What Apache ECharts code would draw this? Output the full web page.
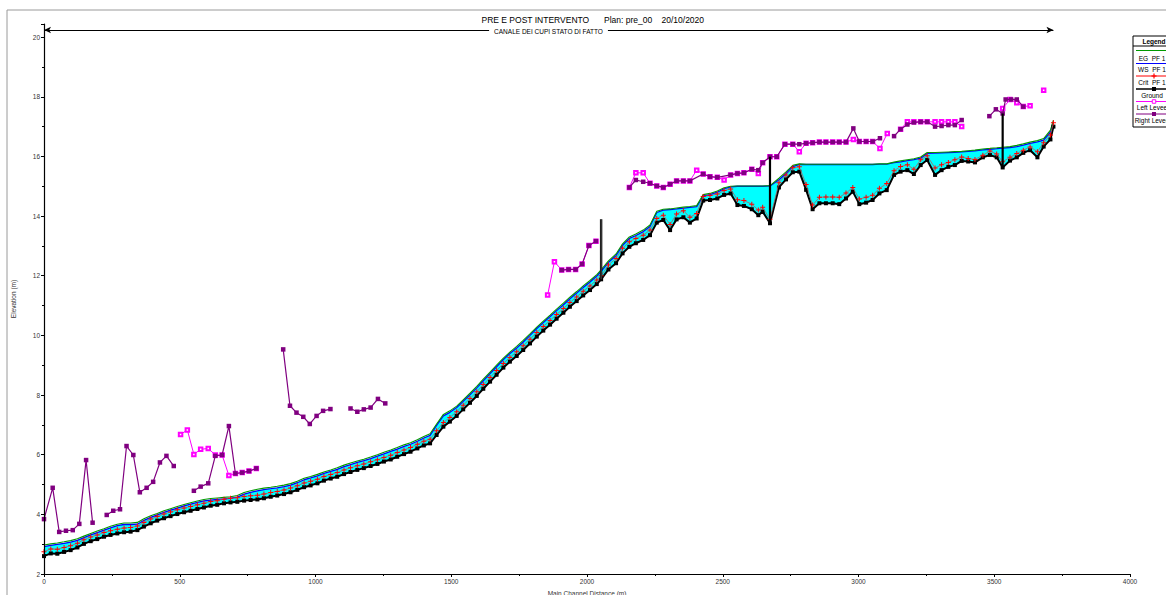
<!DOCTYPE html>
<html><head><meta charset="utf-8">
<script src="https://cdn.jsdelivr.net/npm/echarts/dist/echarts.min.js"></script>
<style>html,body{margin:0;padding:0;background:#fff}#c{width:1166px;height:595px}</style>
</head><body><div id="c"></div>
<script>
// ---- data ----
const stations = [0,25,49,74,98,123,147,172,196,221,245,270,295,319,344,368,393,417,442,466,491,516,540,565,589,614,638,663,687,712,737,761,786,810,835,859,884,908,933,958,982,1007,1031,1056,1080,1105,1129,1154,1178,1203,1228,1252,1277,1301,1326,1350,1375,1399,1422,
1446,1471,1495,1520,1544,1569,1594,1618,1643,1667,1692,1716,1741,1765,1790,1815,1839,1864,1888,1913,1937,1962,1986,2011,2036,2052,
2079,2107,2131,2156,2180,2207,2232,2257,2281,2306,2330,2355,2379,2404,2428,2453,2480,2505,2529,2554,2578,2607,2631,2647,2674,
2707,2733,2758,2782,2807,2831,2856,2880,2905,2929,2954,2979,3003,3028,3052,3077,3104,3131,3155,3180,3204,3229,3253,3282,3306,3331,3355,3380,3404,3429,3458,3484,3509,3531,3558,3583,3607,3632,3659,3682,3707,3718];

const groundElev = [2.60,2.69,2.68,2.74,2.80,2.89,3.01,3.10,3.17,3.25,3.31,3.36,3.40,3.42,3.47,3.59,3.70,3.79,3.87,3.94,4.01,4.07,4.12,4.18,4.23,4.29,4.32,4.37,4.40,4.42,4.46,4.48,4.50,4.54,4.59,4.63,4.68,4.74,4.82,4.91,4.97,5.04,5.13,5.20,5.26,5.35,5.42,5.49,5.55,5.62,5.69,5.77,5.84,5.93,6.02,6.10,6.21,6.31,6.38,
6.66,6.94,7.11,7.30,7.52,7.74,7.97,8.21,8.45,8.68,8.92,9.12,9.31,9.51,9.73,9.96,10.16,10.36,10.56,10.76,10.96,11.15,11.34,11.52,11.72,11.88,
12.21,12.42,12.75,12.97,13.09,13.20,13.36,13.78,13.87,13.53,13.89,13.96,13.78,13.92,14.52,14.54,14.59,14.71,14.76,14.37,14.34,14.23,14.03,14.15,13.76,
14.96,15.23,15.47,15.49,14.88,14.23,14.43,14.43,14.43,14.40,14.59,14.82,14.40,14.45,14.54,14.76,14.87,15.38,15.49,15.54,15.41,15.71,15.88,15.38,15.54,15.65,15.71,15.85,15.83,15.80,15.97,16.05,15.97,15.63,15.86,15.97,16.12,16.21,15.97,16.33,16.57,17.00];

const critElev = [2.75,2.84,2.83,2.89,2.95,3.03,3.15,3.24,3.31,3.39,3.45,3.50,3.54,3.56,3.61,3.73,3.84,3.93,4.01,4.08,4.15,4.21,4.26,4.32,4.37,4.43,4.46,4.51,4.54,4.56,4.60,4.62,4.64,4.68,4.73,4.77,4.82,4.88,4.96,5.05,5.11,5.18,5.27,5.34,5.40,5.49,5.56,5.63,5.69,5.76,5.83,5.91,5.98,6.07,6.16,6.24,6.35,6.45,6.52,
6.80,7.08,7.25,7.44,7.66,7.88,8.11,8.35,8.59,8.82,9.06,9.26,9.45,9.65,9.87,10.10,10.30,10.50,10.70,10.90,11.10,11.29,11.48,11.66,11.86,12.00,
12.36,12.58,12.92,13.14,13.25,13.36,13.53,13.92,14.03,13.72,14.07,14.18,13.96,14.09,14.66,14.69,14.74,14.86,14.91,14.55,14.52,14.40,14.20,14.30,13.89,
15.12,15.38,15.62,15.65,15.06,14.37,14.63,14.64,14.64,14.63,14.77,14.96,14.57,14.63,14.70,14.93,15.09,15.52,15.66,15.72,15.57,15.89,16.02,15.61,15.72,15.80,15.89,15.98,15.93,15.90,16.04,16.18,16.08,15.82,15.97,16.10,16.21,16.32,16.16,16.46,16.72,17.13];

const wsElev = [2.92,2.96,2.99,3.03,3.07,3.13,3.22,3.31,3.39,3.47,3.55,3.62,3.66,3.66,3.67,3.80,3.90,3.98,4.07,4.14,4.21,4.28,4.34,4.40,4.45,4.48,4.50,4.52,4.54,4.58,4.68,4.74,4.79,4.83,4.86,4.89,4.93,4.98,5.06,5.16,5.22,5.29,5.37,5.44,5.51,5.60,5.67,5.74,5.80,5.87,5.95,6.03,6.11,6.19,6.28,6.35,6.45,6.56,6.65,
6.98,7.30,7.42,7.58,7.79,8.01,8.24,8.48,8.72,8.95,9.19,9.39,9.58,9.78,10.00,10.23,10.43,10.63,10.83,11.03,11.23,11.42,11.61,11.79,11.99,12.15,
12.45,12.68,13.02,13.25,13.35,13.48,13.65,14.12,14.20,14.22,14.24,14.27,14.29,14.32,14.68,14.72,14.80,14.92,14.98,15.00,15.00,15.00,15.00,15.00,15.01,
15.22,15.43,15.66,15.73,15.73,15.73,15.73,15.73,15.73,15.73,15.73,15.73,15.73,15.73,15.73,15.74,15.74,15.79,15.82,15.86,15.89,15.94,16.10,16.11,16.12,16.13,16.14,16.15,16.17,16.19,16.22,16.24,16.26,16.28,16.30,16.33,16.38,16.44,16.49,16.55,16.82,17.16];

const egElev = [2.97,3.01,3.04,3.08,3.12,3.18,3.27,3.36,3.44,3.52,3.60,3.67,3.71,3.71,3.73,3.85,3.95,4.03,4.12,4.19,4.26,4.33,4.39,4.45,4.50,4.53,4.55,4.57,4.59,4.63,4.73,4.79,4.84,4.88,4.91,4.94,4.98,5.03,5.11,5.21,5.27,5.34,5.42,5.49,5.56,5.65,5.72,5.79,5.85,5.92,6.00,6.08,6.16,6.24,6.33,6.40,6.50,6.61,6.70,
7.03,7.35,7.47,7.63,7.84,8.06,8.29,8.53,8.77,9.00,9.24,9.44,9.63,9.83,10.05,10.28,10.48,10.68,10.88,11.08,11.28,11.47,11.66,11.84,12.04,12.20,
12.50,12.73,13.07,13.30,13.40,13.53,13.70,14.16,14.23,14.24,14.27,14.30,14.32,14.35,14.72,14.76,14.84,14.95,15.00,15.01,15.01,15.01,15.01,15.01,15.02,
15.27,15.48,15.70,15.75,15.74,15.74,15.74,15.74,15.74,15.74,15.74,15.74,15.74,15.74,15.74,15.75,15.75,15.81,15.85,15.89,15.92,15.98,16.13,16.13,16.14,16.15,16.16,16.17,16.19,16.21,16.25,16.27,16.29,16.31,16.33,16.37,16.42,16.48,16.53,16.60,16.88,17.22];

const leftLeveeSegments = [
  [[503,6.68],[528,6.83],[552,6.01],[577,6.18],[605,6.21],[631,5.99],[656,5.99],[681,5.30],[705,5.37],[730,5.40],[755,5.45],[782,5.54]],
  [[1855,11.35],[1880,12.47],[1907,12.19],[1932,12.21],[1958,12.21],[1982,12.39],[2007,13.01],[2033,13.16]],
  [[2156,14.96],[2180,15.45],[2207,15.45],[2232,15.10],[2257,15.01],[2281,14.96],[2306,15.07],[2330,15.18],[2355,15.18],[2379,15.18],[2404,15.54],[2428,15.41],[2453,15.32],[2480,15.30],[2505,15.21],[2529,15.38],[2554,15.43],[2578,15.45],[2607,15.57],[2631,15.43],[2647,15.79],[2674,15.99],[2699,15.99],[2729,16.41],[2758,16.41],[2782,16.16],[2807,16.44],[2831,16.46],[2856,16.48],[2880,16.48],[2905,16.48],[2929,16.48],[2954,16.48],[2981,16.57],[3003,16.50],[3028,16.50],[3052,16.50],[3079,16.27],[3106,16.77]],
  [[3155,16.91],[3180,17.16],[3204,17.16],[3229,17.16],[3253,17.16],[3282,17.16],[3306,17.16],[3331,17.16],[3355,17.16],[3380,17.00]],
  [[3531,17.61],[3558,17.91],[3583,17.80],[3607,17.67],[3632,17.70]],
  [[3682,18.22]]
];

const rightLeveeSegments = [
  [[0,3.84],[32,4.89],[56,3.41],[81,3.45],[106,3.47],[130,3.68],[155,5.82],[179,3.72]],
  [[231,3.98],[255,4.12],[280,4.17],[304,6.29],[329,5.99],[353,4.74],[378,4.89],[402,5.09],[427,5.74],[451,5.96],[478,5.62]],
  [[552,4.79],[577,4.93],[605,5.04],[631,5.96],[656,5.99],[681,6.96],[705,5.37],[730,5.40],[755,5.45],[782,5.54]],
  [[881,9.53],[906,7.64],[930,7.41],[955,7.27],[979,7.03],[1004,7.30],[1028,7.47],[1055,7.53]],
  [[1129,7.55],[1154,7.44],[1178,7.52],[1203,7.58],[1230,7.87],[1257,7.72]],
  [[1907,12.19],[1932,12.21],[1958,12.21],[1982,12.39],[2007,13.01],[2033,13.16]],
  [[2156,14.96],[2180,15.21],[2207,15.15],[2232,15.10],[2257,15.01],[2281,14.96],[2306,15.07],[2330,15.18],[2355,15.18],[2379,15.18],[2428,15.41],[2453,15.32],[2480,15.30],[2529,15.38],[2554,15.43],[2578,15.45],[2607,15.57],[2631,15.54],[2647,15.79],[2674,15.99],[2699,15.99],[2729,16.41],[2758,16.41],[2782,16.41],[2807,16.44],[2831,16.46],[2856,16.48],[2880,16.48],[2905,16.48],[2929,16.48],[2954,16.48],[2981,16.94],[3003,16.50],[3028,16.50],[3052,16.50],[3079,16.61]],
  [[3131,16.68],[3155,16.91],[3180,17.07],[3204,17.14],[3229,17.16],[3253,17.16],[3282,17.00],[3306,17.02],[3331,17.05],[3355,17.05],[3380,17.22]],
  [[3482,17.35],[3506,17.58],[3531,17.44],[3542,17.91],[3562,17.91],[3583,17.91],[3607,17.67]]
];

// vertical structure outlines (station, bottom elev, top elev)
const structures = [[2052,11.88,13.89],[2674,13.76,15.99],[3531,15.63,17.44]];

const reachName = 'CANALE DEI CUPI STATO DI FATTO';
const titleParts = ['PRE E POST INTERVENTO','Plan: pre_00','20/10/2020'];
const legendLabels = ['EG  PF 1','WS  PF 1','Crit  PF 1','Ground','Left Levee','Right Levee'];

// ---- chart ----
const FONT = '"Liberation Sans", Arial, sans-serif';
const zip = (vals) => stations.map((d, i) => [d, vals[i]]);
const PLUS = 'path://M4,0L6,0L6,4L10,4L10,6L6,6L6,10L4,10L4,6L0,6L0,4L4,4Z';
const COL = {eg:'#009a00', ws:'#0000ff', crit:'#ff0000', ground:'#000000', left:'#ff00ff', right:'#800080', fill:'#00ffff'};

const series = [];
// cyan water body: one polygon between the water surface and the ground, placed with the axis scales
series.push({type:'custom', z:1, silent:true, clip:true,
  data:[[stations[0], wsElev[0]]],
  renderItem:(params, api) => {
    const pts = [];
    for (let i = 0; i < stations.length; i++) pts.push(api.coord([stations[i], wsElev[i]]));
    for (let i = stations.length - 1; i >= 0; i--) pts.push(api.coord([stations[i], groundElev[i]]));
    return {type:'polygon', shape:{points:pts}, style:{fill:COL.fill, stroke:null}};
  }});
series.push({name:'WS PF 1', type:'line', data: zip(wsElev), showSymbol:false, z:2,
  lineStyle:{color:COL.ws, width:1.3}});
series.push({name:'EG PF 1', type:'line', data: zip(egElev), showSymbol:false, z:2,
  lineStyle:{color:COL.eg, width:1.1}});
series.push({name:'Ground', type:'line', data: zip(groundElev), z:3, symbol:'rect', symbolSize:4,
  itemStyle:{color:COL.ground}, lineStyle:{color:COL.ground, width:2}});
series.push({name:'Crit PF 1', type:'line', data: zip(critElev), z:4, symbol:PLUS, symbolSize:5,
  itemStyle:{color:COL.crit}, lineStyle:{color:'#b06060', width:0.8}});
leftLeveeSegments.forEach((seg) => series.push({name:'Left Levee', type:'line', data: seg, z:5,
  symbol:'emptyRect', symbolSize:3.5, showAllSymbol:true,
  itemStyle:{color:COL.left, borderColor:COL.left, borderWidth:1}, lineStyle:{color:COL.left, width:1}}));
rightLeveeSegments.forEach((seg) => series.push({name:'Right Levee', type:'line', data: seg, z:6,
  symbol:'rect', symbolSize:4.5, showAllSymbol:true,
  itemStyle:{color:COL.right}, lineStyle:{color:COL.right, width:1.2}}));
structures.forEach((s, k) => {
  series.push({type:'line', data:[[s[0], s[1]],[s[0], s[2]]], showSymbol:false, z:7,
    lineStyle:{color:'#000', width: k === 0 ? 2.4 : 2.2}});
  if (k === 0) series.push({type:'line', data:[[s[0], s[1]],[s[0], s[2]]], showSymbol:false, z:8,
    lineStyle:{color:'#8a8a8a', width:0.6}});
});
// reach extent line
series.push({type:'line', data:[], z:9,
  markLine:{silent:true, animation:false, symbol:['arrow','arrow'], symbolSize:[5,7],
    lineStyle:{color:'#000', width:1, type:'solid'}, label:{show:false},
    data:[[{coord:[stations[0], 20.24]},{coord:[stations[stations.length-1], 20.24]}]]}});

// frame, title, reach name and legend graphics
const LX = 1133, LW = 62, LC = 1154;
const g = [];
g.push({type:'rect', shape:{x:7,y:10,width:1200,height:700}, style:{fill:'none', stroke:'#9a9a9a', lineWidth:1}, z:0, silent:true});
g.push({type:'text', x:481.5, y:19.5, style:{text:titleParts[0], font:'8.5px '+FONT, fill:'#000', textVerticalAlign:'middle'}});
g.push({type:'text', x:604, y:19.5, style:{text:titleParts[1], font:'8.5px '+FONT, fill:'#000', textVerticalAlign:'middle'}});
g.push({type:'text', x:661.5, y:19.5, style:{text:titleParts[2], font:'8.5px '+FONT, fill:'#000', textVerticalAlign:'middle'}});
g.push({type:'text', x:548.5, y:31, z:20, style:{text:reachName, font:'6.5px '+FONT, fill:'#000', textAlign:'center', textVerticalAlign:'middle', backgroundColor:'#fff', padding:[1,5]}});
g.push({type:'rect', shape:{x:LX, y:36, width:LW, height:91}, style:{fill:'#fff', stroke:'#000', lineWidth:1}, z:10});
g.push({type:'text', x:LC, y:41.5, style:{text:'Legend', font:'bold 6.5px '+FONT, fill:'#000', textAlign:'center', textVerticalAlign:'middle'}, z:11});
g.push({type:'line', shape:{x1:LX, y1:46, x2:LX+LW, y2:46}, style:{stroke:'#000', lineWidth:1}, z:11});
const rows = [
  {ly:50.5, ty:58, c:COL.eg, m:null},
  {ly:63.5, ty:69.5, c:COL.ws, m:null},
  {ly:76, ty:82, c:COL.crit, m:'plus'},
  {ly:89, ty:95, c:COL.ground, m:'rect'},
  {ly:101.5, ty:107.5, c:COL.left, m:'empty'},
  {ly:114, ty:120.5, c:COL.right, m:'rect'}
];
rows.forEach((r, i) => {
  g.push({type:'line', shape:{x1:LX+3, y1:r.ly, x2:LX+LW, y2:r.ly}, style:{stroke:r.c, lineWidth: i===3 ? 1.6 : 1}, z:11});
  if (r.m === 'rect') g.push({type:'rect', shape:{x:LC-2, y:r.ly-2, width:4, height:4}, style:{fill:r.c}, z:12});
  if (r.m === 'empty') g.push({type:'rect', shape:{x:LC-1.75, y:r.ly-1.75, width:3.5, height:3.5}, style:{fill:'#fff', stroke:r.c, lineWidth:1}, z:12});
  if (r.m === 'plus') {
    g.push({type:'line', shape:{x1:LC-2.5, y1:r.ly, x2:LC+2.5, y2:r.ly}, style:{stroke:r.c, lineWidth:1.2}, z:12});
    g.push({type:'line', shape:{x1:LC, y1:r.ly-2.5, x2:LC, y2:r.ly+2.5}, style:{stroke:r.c, lineWidth:1.2}, z:12});
  }
  g.push({type:'text', x:LC-2, y:r.ty, style:{text:legendLabels[i], font:'6.5px '+FONT, fill:'#000', textAlign:'center', textVerticalAlign:'middle'}, z:12});
});

const chart = echarts.init(document.getElementById('c'), null, {renderer:'svg'});
chart.setOption({
  animation:false,
  backgroundColor:'#fff',
  grid:{left:44, right:36, top:24, bottom:21, containLabel:false, outerBoundsMode:'none'},
  xAxis:{type:'value', min:0, max:4000, interval:500, z:10,
    name:'Main Channel Distance (m)', nameLocation:'middle', nameGap:14,
    nameTextStyle:{fontFamily:FONT, fontSize:6.5, color:'#333'},
    axisLine:{show:true, lineStyle:{color:'#000', width:1.2}},
    axisTick:{show:true, length:3, lineStyle:{color:'#000'}},
    minorTick:{show:true, splitNumber:2, length:2, lineStyle:{color:'#000'}},
    splitLine:{show:false},
    axisLabel:{fontFamily:FONT, fontSize:6.5, color:'#333', margin:4, formatter:(v) => String(v)}},
  yAxis:{type:'value', min:2, max:20.44, interval:2, z:10,
    name:'Elevation (m)', nameLocation:'middle', nameGap:27, nameRotate:90,
    nameTextStyle:{fontFamily:FONT, fontSize:6.5, color:'#333'},
    axisLine:{show:true, lineStyle:{color:'#000', width:1.2}},
    axisTick:{show:true, length:3, lineStyle:{color:'#000'}},
    minorTick:{show:true, splitNumber:2, length:2, lineStyle:{color:'#000'}},
    splitLine:{show:false},
    axisLabel:{fontFamily:FONT, fontSize:6.5, color:'#333', margin:4, showMaxLabel:false, formatter:(v) => String(v)}},
  series: series,
  graphic: g
});
</script></body></html>
